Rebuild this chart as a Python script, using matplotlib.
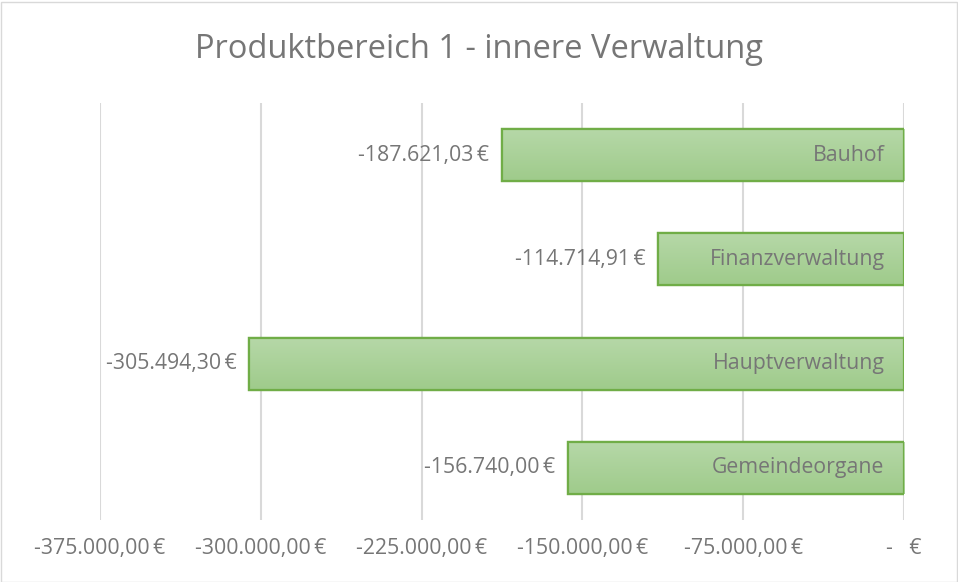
import matplotlib
matplotlib.use("Agg")
import matplotlib.pyplot as plt
import numpy as np
from matplotlib.colors import LinearSegmentedColormap
from matplotlib.patches import Rectangle

plt.rcParams['font.family'] = ['Open Sans', 'DejaVu Sans']

title = "Produktbereich 1 - innere Verwaltung"
categories = ["Bauhof", "Finanzverwaltung", "Hauptverwaltung", "Gemeindeorgane"]
values = [-187621.03, -114714.91, -305494.30, -156740.00]
value_labels = ["-187.621,03\u2009€", "-114.714,91\u2009€", "-305.494,30\u2009€", "-156.740,00\u2009€"]
tick_values = [-375000, -300000, -225000, -150000, -75000, 0]
tick_labels = ["-375.000,00\u2009€", "-300.000,00\u2009€", "-225.000,00\u2009€",
               "-150.000,00\u2009€", "-75.000,00\u2009€", "-   €"]

grey = "#767676"
fs = 15.3
fig = plt.figure(figsize=(9.58, 5.82), dpi=100)
ax = fig.add_axes([100/958, (582-520)/582, 804/958, 417/582])

y = np.arange(len(categories))
bars = ax.barh(y, values, height=0.5, color="#acd19c", edgecolor="#70ad47",
               linewidth=1.6, zorder=3)

cmap = LinearSegmentedColormap.from_list("g", ["#b6d8a8", "#9fcb8b"])
grad = np.linspace(0, 1, 64).reshape(-1, 1)
for b in bars:
    x0, w = b.get_x(), b.get_width()
    y0, h = b.get_y(), b.get_height()
    im = ax.imshow(grad, cmap=cmap, aspect="auto", zorder=3.5,
                   extent=(x0, x0 + w, y0 + h, y0), origin="upper")
    im.set_clip_path(b)
    rect = Rectangle((x0, y0), w, h, fill=False, edgecolor="#70ad47",
                     linewidth=1.6, zorder=4)
    ax.add_patch(rect)

for yi, v, lab, cat in zip(y, values, value_labels, categories):
    ax.annotate(lab, (v, yi), xytext=(-9, 0), textcoords="offset points",
                ha="right", va="center", fontsize=fs, color=grey, zorder=5)
    ax.annotate(cat, (0, yi), xytext=(-14, 0), textcoords="offset points",
                ha="right", va="center", fontsize=fs, color=grey, zorder=5)

ax.set_xlim(-375000, 0)
ax.set_ylim(len(categories) - 0.5, -0.5)
ax.set_xticks(tick_values)
ax.set_xticklabels(tick_labels, fontsize=fs, color=grey)
ax.set_yticks([])
ax.tick_params(axis="x", length=0, pad=13)
ax.grid(axis="x", color="#d9d9d9", linewidth=1.5, zorder=0)
ax.set_axisbelow(True)
for s in ax.spines.values():
    s.set_visible(False)

fig.text(0.5, 1 - 49/582, title, ha="center", va="center", fontsize=23.5, color=grey)
fig.patches.append(Rectangle((0.5/958, 0.5/582), 1 - 2/958, 1 - 2/582, transform=fig.transFigure,
                             fill=False, edgecolor="#d9d9d9", linewidth=1))
fig.savefig("out.png", dpi=100)
